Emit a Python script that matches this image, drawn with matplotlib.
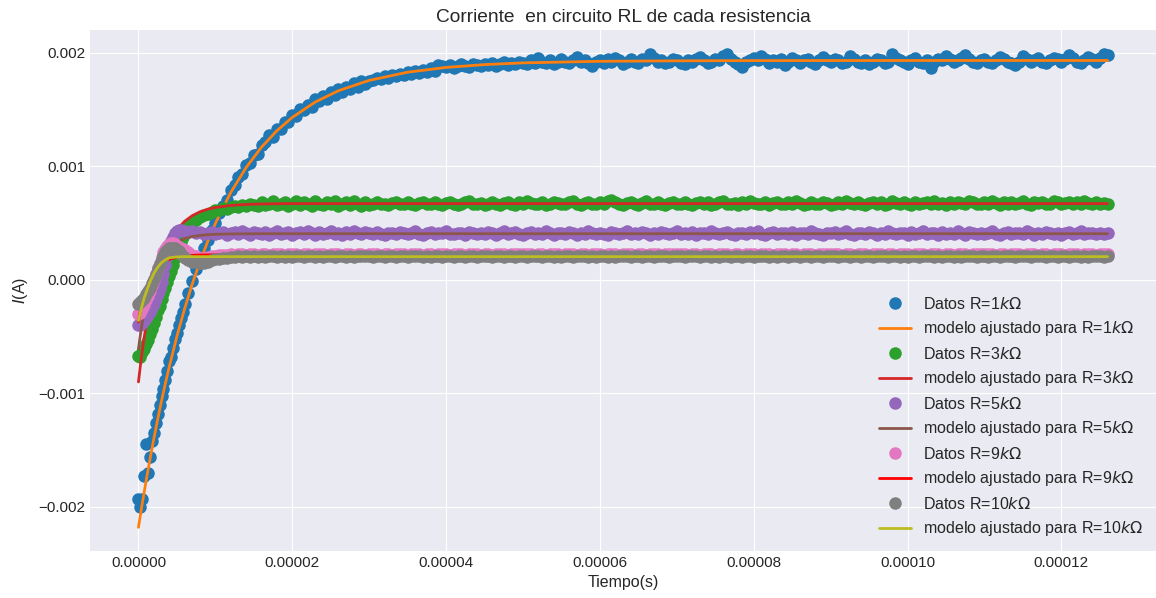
import numpy as np
import matplotlib
matplotlib.use("Agg")
import matplotlib.pyplot as plt

plt.style.use('seaborn-v0_8-darkgrid')
plt.rcParams['font.family'] = ['Liberation Sans', 'DejaVu Sans']

# ---------------- data (currents in microamperes, time in microseconds) ----------------
# sampling grid of the scope data
t_seg_a = np.arange(0, 6, 0.25)        # 24 samples
t_seg_b = np.arange(6, 30, 0.5)        # 48 samples
t_seg_c = np.arange(30, 126.5, 0.5)    # 193 samples
t_data_us = np.concatenate([t_seg_a, t_seg_b, t_seg_c])

i1k_us = [
    # 0 .. 5.75 us
    -1930, -2000, -1930, -1730, -1450, -1700, -1560, -1420, -1350, -1260, -1180, -1100,
    -1020, -960, -880, -800, -720, -680, -600, -520, -470, -400, -340, -280,
    # 6 .. 29.5 us
    -210, -120, -10, 90, 170, 280, 350, 440, 500, 590,
    650, 700, 790, 830, 900, 930, 1010, 1030, 1100, 1110,
    1190, 1210, 1270, 1260, 1330, 1330, 1390, 1390, 1450, 1440,
    1500, 1490, 1540, 1520, 1590, 1570, 1620, 1590, 1650, 1630,
    1680, 1650, 1700, 1680, 1730, 1700, 1750, 1720,
    # 30 .. 126 us
    1750, 1760, 1780, 1770, 1790, 1780, 1800, 1790, 1810, 1800,
    1830, 1810, 1840, 1820, 1850, 1830, 1860, 1840, 1890, 1880,
    1870, 1890, 1860, 1880, 1900, 1880, 1870, 1900, 1890, 1880,
    1900, 1890, 1910, 1880, 1900, 1920, 1890, 1910, 1900, 1920,
    1910, 1900, 1930, 1910, 1950, 1920, 1910, 1930, 1900, 1920,
    1940, 1920, 1910, 1930, 1960, 1920, 1930, 1910, 1880, 1920,
    1930, 1910, 1940, 1920, 1950, 1930, 1900, 1920, 1940, 1920,
    1910, 1940, 1930, 1990, 1950, 1920, 1930, 1910, 1920, 1940,
    1930, 1910, 1900, 1930, 1920, 1940, 1960, 1930, 1910, 1920,
    1940, 1930, 1970, 1990, 1940, 1920, 1900, 1870, 1920, 1930,
    1950, 1930, 1970, 1940, 1910, 1930, 1920, 1940, 1890, 1920,
    1950, 1930, 1910, 1930, 1940, 1920, 1900, 1930, 1960, 1930,
    1920, 1940, 1930, 1910, 1920, 1970, 1940, 1920, 1910, 1930,
    1900, 1920, 1940, 1930, 1910, 1920, 1990, 1950, 1930, 1920,
    1900, 1930, 1950, 1920, 1910, 1930, 1860, 1920, 1940, 1930,
    1970, 1940, 1920, 1930, 1950, 1980, 1940, 1920, 1910, 1930,
    1940, 1920, 1910, 1930, 1960, 1940, 1920, 1910, 1890, 1920,
    1970, 1940, 1920, 1930, 1950, 1920, 1910, 1930, 1950, 1940,
    1920, 1940, 1980, 1950, 1920, 1910, 1930, 1960, 1940, 1920,
    1950, 1990, 1980,
]

i3k_us = [
    -670, -680, -640, -610, -570, -530, -480, -430, -380, -330, -270, -230,
    -170, -120, -70, -20, 30, 80, 130, 190, 240, 290, 330, 380,
    420, 470, 500, 530, 550, 570, 580, 600, 610, 610,
    630, 620, 640, 650, 640, 660, 650, 670, 660, 650,
    680, 660, 670, 690, 660, 670, 680, 650, 670, 690,
    660, 680, 670, 650, 690, 670, 660, 680, 670, 690,
    650, 670, 680, 660, 690, 670, 650, 680,
    660, 670, 680, 665, 670, 655, 675, 680, 665, 670,
    680, 670, 660, 675, 685, 670, 665, 680, 670, 660,
    675, 685, 670, 660, 670, 680, 690, 670, 665, 675,
    660, 670, 680, 670, 655, 675, 685, 670, 660, 680,
    670, 690, 675, 665, 670, 680, 660, 670, 685, 675,
    665, 670, 680, 690, 670, 660, 675, 680, 670, 665,
    680, 670, 690, 705, 685, 670, 660, 675, 680, 670,
    660, 675, 690, 670, 665, 680, 670, 660, 675, 685,
    670, 665, 680, 670, 655, 675, 685, 670, 680, 660,
    670, 680, 690, 670, 665, 675, 660, 680, 670, 690,
    675, 665, 670, 680, 660, 675, 685, 670, 665, 680,
    670, 690, 675, 660, 670, 680, 670, 665, 685, 675,
    660, 670, 680, 670, 690, 675, 665, 680, 670, 660,
    675, 685, 670, 680, 660, 670, 690, 675, 665, 680,
    670, 660, 685, 670, 675, 680, 665, 690, 670, 675,
    660, 680, 670, 685, 675, 665, 690, 680, 670, 665,
    680, 670, 690, 675, 660, 680, 670, 685, 665, 675,
    690, 670, 660, 680, 675, 685, 670, 665, 690, 680,
    670, 675, 685, 665, 680, 670, 690, 675, 665, 680,
    670, 675, 665,
]

i5k_us = [
    -400, -400, -380, -360, -340, -310, -280, -250, -210, -170, -130, -80,
    -20, 50, 130, 210, 280, 340, 380, 410, 430, 440, 440, 430,
    430, 420, 430, 410, 420, 400, 410, 420, 400, 410,
    420, 390, 410, 420, 400, 430, 410, 390, 420, 410,
    400, 420, 390, 410, 430, 400, 410, 420, 390, 410,
    420, 400, 430, 410, 390, 420, 400, 410, 430, 400,
    410, 390, 420, 400, 430, 410, 400, 420,
    410, 400, 420, 405, 395, 415, 410, 400, 420, 410,
    400, 415, 425, 405, 395, 410, 420, 400, 410, 415,
    425, 405, 400, 415, 410, 395, 420, 410, 400, 415,
    405, 420, 410, 395, 415, 425, 400, 410, 420, 405,
    395, 410, 420, 405, 415, 400, 425, 410, 395, 415,
    410, 400, 420, 410, 395, 415, 405, 425, 410, 400,
    415, 405, 395, 420, 410, 400, 415, 425, 405, 410,
    400, 420, 410, 395, 415, 405, 420, 410, 400, 415,
    425, 405, 410, 400, 420, 395, 410, 415, 405, 425,
    410, 400, 415, 420, 405, 395, 415, 410, 400, 420,
    410, 425, 405, 395, 410, 420, 400, 415, 410, 405,
    420, 395, 410, 415, 400, 425, 410, 405, 395, 415,
    410, 420, 400, 410, 425, 405, 395, 415, 410, 400,
    420, 410, 395, 415, 405, 425, 410, 400, 415, 410,
    395, 420, 405, 410, 425, 400, 415, 410, 395, 420,
    405, 415, 400, 425, 410, 395, 420, 410, 405, 415,
    400, 410, 425, 405, 395, 415, 420, 400, 410, 415,
    405, 425, 410, 395, 415, 400, 420, 410, 405, 415,
    395, 410, 420, 405, 415, 425, 400, 410, 415, 405,
    410, 400, 410,
]

i9k_us = [
    -300, -290, -260, -220, -180, -140, -100, -50, 0, 50, 100, 150,
    200, 240, 270, 300, 310, 320, 320, 310, 300, 290, 280, 270,
    260, 240, 220, 205, 195, 195, 200, 205, 210, 215,
    220, 220, 225, 220, 230, 225, 220, 230, 225, 220,
    230, 225, 220, 230, 225, 230, 220, 225, 230, 225,
    220, 230, 225, 220, 230, 225, 230, 220, 225, 230,
    225, 220, 230, 225, 220, 230, 225, 220,
    225, 230, 225, 220, 225, 230, 220, 225, 230, 225,
    220, 225, 230, 225, 220, 230, 225, 220, 225, 230,
    225, 220, 225, 230, 225, 220, 230, 225, 225, 220,
    230, 225, 220, 225, 230, 225, 220, 230, 225, 225,
    225, 230, 225, 220, 225, 230, 220, 225, 230, 225,
    220, 225, 230, 225, 220, 230, 225, 220, 225, 230,
    225, 220, 225, 230, 225, 220, 230, 225, 225, 220,
    230, 225, 220, 225, 230, 225, 220, 230, 225, 225,
    225, 230, 225, 220, 225, 230, 220, 225, 230, 225,
    220, 225, 230, 225, 220, 230, 225, 220, 225, 230,
    225, 220, 225, 230, 225, 220, 230, 225, 225, 220,
    230, 225, 220, 225, 230, 225, 220, 230, 225, 225,
    225, 230, 225, 220, 225, 230, 220, 225, 230, 225,
    220, 225, 230, 225, 220, 230, 225, 220, 225, 230,
    225, 220, 225, 230, 225, 220, 230, 225, 225, 220,
    230, 225, 220, 225, 230, 225, 220, 230, 225, 225,
    225, 230, 225, 220, 225, 230, 220, 225, 230, 225,
    220, 225, 230, 225, 220, 230, 225, 220, 225, 230,
    225, 220, 225, 230, 225, 220, 230, 225, 225, 220,
    225, 230, 225,
]

i10k_us = [
    -210, -200, -180, -160, -130, -100, -70, -30, 10, 50, 100, 140,
    180, 210, 240, 260, 275, 280, 280, 275, 265, 250, 230, 210,
    190, 175, 160, 155, 150, 150, 160, 170, 180, 185,
    190, 195, 200, 200, 205, 200, 205, 200, 205, 200,
    205, 200, 205, 210, 200, 205, 200, 205, 200, 210,
    205, 200, 205, 210, 200, 205, 200, 210, 205, 200,
    205, 210, 200, 205, 200, 205, 210, 205,
    205, 200, 205, 210, 200, 205, 205, 200, 210, 205,
    200, 205, 210, 205, 200, 205, 200, 210, 205, 200,
    205, 210, 200, 205, 205, 200, 210, 205, 200, 205,
    210, 205, 200, 205, 210, 200, 205, 205, 200, 210,
    205, 200, 205, 210, 205, 200, 205, 210, 200, 205,
    200, 210, 205, 200, 205, 205, 210, 200, 205, 200,
    205, 210, 200, 205, 200, 210, 205, 205, 200, 210,
    205, 200, 205, 210, 200, 205, 210, 205, 200, 205,
    210, 205, 200, 205, 205, 210, 200, 205, 210, 200,
    205, 200, 205, 210, 200, 205, 205, 200, 210, 205,
    200, 205, 210, 205, 200, 205, 200, 210, 205, 200,
    205, 210, 200, 205, 205, 200, 210, 205, 200, 205,
    210, 205, 200, 205, 210, 200, 205, 205, 200, 210,
    205, 200, 205, 210, 205, 200, 205, 210, 200, 205,
    200, 210, 205, 200, 205, 205, 210, 200, 205, 200,
    205, 210, 200, 205, 200, 210, 205, 205, 200, 210,
    205, 200, 205, 210, 200, 205, 210, 205, 200, 205,
    210, 205, 200, 205, 205, 210, 200, 205, 210, 200,
    205, 205, 200, 210, 205, 200, 205, 200, 205, 210,
    205, 200, 205,
]

# fitted-model curves
t_model_us = [0, 0.25, 0.5, 0.75, 1, 1.5, 2, 2.5, 3, 3.5, 4, 5, 6, 7, 8, 9, 10, 12, 14, 16,
              18, 20, 23, 26, 30, 35, 40, 45, 50, 60, 70, 80, 100, 126]
fit1k_us = [-2180, -2073, -1969, -1868, -1769, -1580, -1400, -1229, -1067, -913, -768, -498,
            -256, -37, 159, 336, 496, 768, 988, 1167, 1312, 1429, 1565, 1664, 1755, 1827,
            1869, 1894, 1909, 1923, 1927, 1929, 1930, 1930]
fit3k_us = [-900, -756, -626, -507, -399, -212, -58, 70, 175, 261, 333, 440, 514, 564, 598,
            621, 636, 654, 663, 667, 669, 670, 670, 670, 670, 670, 670, 670, 670, 670, 670,
            670, 670, 670]
fit5k_us = [-610, -485, -375, -279, -195, -56, 51, 133, 196, 244, 281, 332, 362, 380, 390,
            396, 400, 403, 404, 405, 405, 405, 405, 405, 405, 405, 405, 405, 405, 405, 405,
            405, 405, 405]
fit9k_us = [-370, -279, -203, -138, -83, 3, 64, 109, 140, 163, 179, 199, 209, 214, 217, 218,
            219, 220, 220, 220, 220, 220, 220, 220, 220, 220, 220, 220, 220, 220, 220, 220,
            220, 220]
fit10k_us = [-360, -290, -220, -160, -110, -20, 55, 110, 150, 175, 193, 201, 203, 203, 203,
             203, 203, 203, 203, 203, 203, 203, 203, 203, 203, 203, 203, 203, 203, 203, 203,
             203, 203, 203]

resistances = ['1', '3', '5', '9', '10']
data_series = [i1k_us, i3k_us, i5k_us, i9k_us, i10k_us]
fit_series = [fit1k_us, fit3k_us, fit5k_us, fit9k_us, fit10k_us]
data_colors = ['C0', 'C2', 'C4', 'C6', 'C7']
fit_colors = ['C1', 'C3', 'C5', 'r', 'C8']

# ---------------- plot ----------------
fig = plt.figure(figsize=(11.56, 5.98), dpi=100)
ax = fig.add_axes([90 / 1156, 1 - 551 / 598, 1 - 90 / 1156, (551 - 30) / 598])

t_data = np.asarray(t_data_us) * 1e-6
t_model = np.asarray(t_model_us) * 1e-6
for r, d, f, dc, fc in zip(resistances, data_series, fit_series, data_colors, fit_colors):
    ax.plot(t_data, np.asarray(d) * 1e-6, 'o', color=dc, markersize=8,
            label='Datos R=' + r + r'$k\Omega$')
    ax.plot(t_model, np.asarray(f) * 1e-6, '-', color=fc, linewidth=2,
            label='modelo ajustado para R=' + r + r'$k\Omega$')

ax.set_title('Corriente  en circuito RL de cada resistencia', fontsize=13.8)
ax.set_xlabel('Tiempo(s)', fontsize=11.5)
ax.set_ylabel('$I$(A)', fontsize=11.5, labelpad=6)
ax.tick_params(labelsize=11)
ax.legend(loc='lower right', fontsize=11.5, numpoints=1, labelspacing=0.47,
          borderaxespad=0.4)

fig.savefig('out.png', dpi=100)
